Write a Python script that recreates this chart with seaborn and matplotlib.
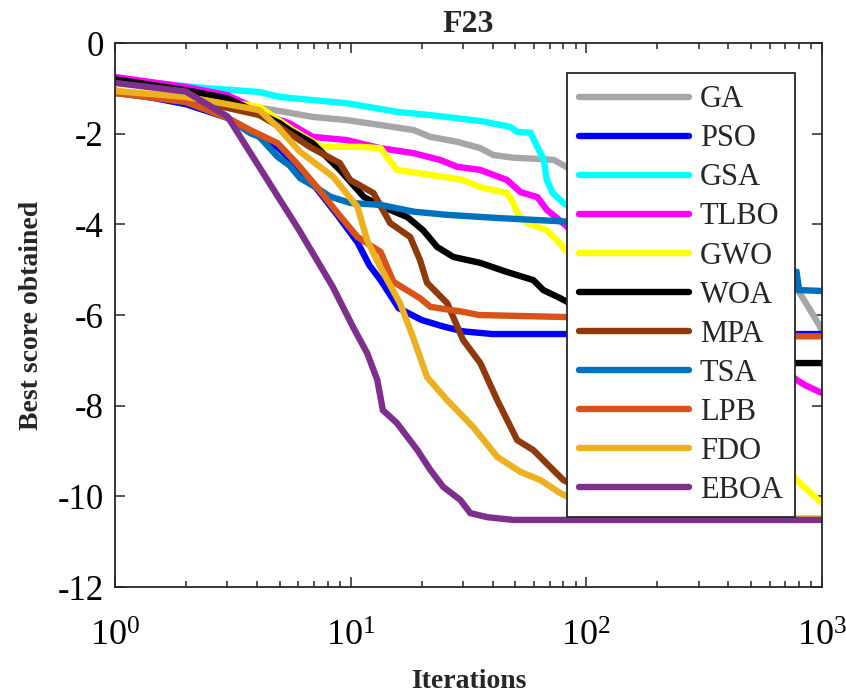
import matplotlib
matplotlib.use("Agg")
import matplotlib.pyplot as plt
from matplotlib.ticker import LogLocator, NullFormatter, FixedLocator
import seaborn as sns
import pandas as pd

# Convergence curves of eleven optimisers on benchmark F23
names = ["GA", "PSO", "GSA", "TLBO", "GWO", "WOA", "MPA", "TSA", "LPB", "FDO", "EBOA"]
colors = ["#A6A6A8", "#0000FF", "#00FFFF", "#FF00FF", "#FFFF00", "#000000",
          "#8E3A0C", "#0072BD", "#D95319", "#EDB120", "#7E2F8E"]

ga_it = [1, 2, 3, 4.1, 5, 6.9, 9.6, 13.4, 18.5, 21.8, 28.4, 35.5, 40.3, 49, 64, 73, 84,
         100, 150, 200, 300, 400, 500, 600, 700, 790, 870, 930, 1000]
ga_val = [-0.85, -1.05, -1.3, -1.43, -1.5, -1.63, -1.70, -1.81, -1.92, -2.07, -2.18, -2.32,
          -2.47, -2.53, -2.56, -2.58, -2.76, -2.95, -3.2, -3.5, -3.9, -4.3, -4.6, -4.9,
          -5.2, -5.45, -5.8, -6.05, -6.33]

pso_it = [1, 2, 3, 3.75, 4.9, 5.9, 7.2, 8.8, 10.7, 12, 13.4, 16, 20, 25, 30, 40, 100, 1000]
pso_val = [-1.05, -1.35, -1.65, -1.95, -2.3, -2.7, -3.22, -3.8, -4.4, -4.9, -5.23, -5.85,
           -6.11, -6.26, -6.36, -6.42, -6.42, -6.42]

gsa_it = [1, 2.5, 4.1, 5, 9.7, 15.8, 21.8, 35.5, 47.5, 51, 58, 62, 66, 68, 72, 80, 94,
          120, 150, 185, 245, 1000]
gsa_val = [-0.8, -1.0, -1.08, -1.19, -1.33, -1.52, -1.59, -1.72, -1.85, -1.96, -1.98,
           -2.29, -2.58, -3.02, -3.31, -3.53, -3.75, -6.5, -9.0, -10.3, -10.5, -10.5]

tlbo_it = [1, 2, 3, 4.1, 5, 5.5, 6.9, 9.6, 13.4, 18.5, 24, 28.3, 35.5, 46, 52.6, 62, 68,
           83, 85, 150, 300, 500, 780, 850, 1000]
tlbo_val = [-0.75, -0.97, -1.15, -1.48, -1.7, -1.77, -2.07, -2.14, -2.32, -2.43, -2.58,
            -2.73, -2.80, -3.02, -3.29, -3.40, -3.68, -4.05, -4.13, -4.6, -5.5, -6.6,
            -7.43, -7.55, -7.72]

gwo_it = [1, 2, 3, 4.1, 5.7, 6.7, 7.6, 11, 13.4, 15.7, 21.8, 30, 35.5, 46, 49, 51, 56,
          68, 75, 83, 150, 300, 500, 780, 1000]
gwo_val = [-1.06, -1.19, -1.3, -1.41, -1.92, -2.14, -2.29, -2.29, -2.32, -2.8, -2.91,
           -3.02, -3.18, -3.31, -3.53, -3.75, -3.97, -4.13, -4.35, -4.61, -5.3, -6.5,
           -8.0, -9.64, -10.15]

woa_it = [1, 2, 3, 4.1, 5, 5.5, 6.9, 9, 11.4, 13.5, 17.4, 20.3, 23.3, 27.3, 35.5, 46,
          59.6, 65.7, 77.6, 85, 150, 300, 500, 700, 1000]
woa_val = [-0.8, -1.04, -1.22, -1.55, -1.77, -1.92, -2.21, -2.8, -3.4, -3.6, -3.84, -4.13,
           -4.5, -4.72, -4.85, -5.05, -5.23, -5.45, -5.63, -5.74, -6.1, -6.5, -6.85,
           -7.06, -7.06]

mpa_it = [1, 2, 3, 4.1, 5, 6.7, 9.0, 9.95, 12.5, 14.7, 17.9, 19.7, 21.1, 25.7, 30, 35.5,
          41.9, 50.9, 59.6, 72.4, 79.9, 85, 107, 150, 1000]
mpa_val = [-1.1, -1.26, -1.43, -1.59, -1.85, -2.29, -2.65, -3.02, -3.31, -3.97, -4.28,
           -4.79, -5.29, -5.74, -6.55, -7.06, -7.88, -8.76, -8.98, -9.42, -9.64, -9.71,
           -10.4, -10.5, -10.5]

tsa_it = [1, 2, 3, 3.75, 4.1, 4.9, 5.5, 6.1, 7.2, 8.2, 10, 13.4, 18.5, 25.6, 42, 83,
          150, 300, 500, 780, 800, 1000]
tsa_val = [-1.1, -1.3, -1.65, -1.99, -2.07, -2.51, -2.7, -2.98, -3.2, -3.39, -3.53, -3.57,
           -3.72, -3.79, -3.86, -3.94, -4.1, -4.4, -4.75, -5.05, -5.45, -5.47]

lpb_it = [1, 2, 3, 3.75, 4.9, 5.9, 7.2, 8.8, 10.7, 13.4, 15.2, 19.7, 21.8, 30, 35, 90,
          200, 300, 1000]
lpb_val = [-1.1, -1.3, -1.65, -1.92, -2.21, -2.65, -3.18, -3.75, -4.28, -4.61, -5.27,
           -5.63, -5.82, -5.93, -6.0, -6.05, -6.3, -6.47, -6.47]

fdo_it = [1, 2, 3, 4.1, 4.9, 6.1, 8.43, 10.7, 11.75, 13.35, 16.2, 18.4, 21.1, 25.7, 33.1,
          41.9, 52.5, 63.8, 77.6, 94.4, 130, 170, 1000]
fdo_val = [-1.06, -1.19, -1.35, -1.48, -1.85, -2.4, -2.95, -3.62, -4.35, -4.94, -5.74,
           -6.49, -7.37, -7.88, -8.47, -9.13, -9.46, -9.64, -9.93, -10.15, -10.42, -10.5,
           -10.5]

eboa_it = [1, 2, 3, 4, 5, 6, 6.9, 8.4, 10.25, 11.75, 12.97, 13.7, 15.7, 19.2, 21.8, 24.7,
           29.2, 32.2, 38, 49, 1000]
eboa_val = [-0.88, -1.07, -1.62, -2.65, -3.45, -4.1, -4.63, -5.38, -6.27, -6.84, -7.43,
            -8.1, -8.38, -8.98, -9.42, -9.79, -10.08, -10.37, -10.46, -10.52, -10.52]

iters = [ga_it, pso_it, gsa_it, tlbo_it, gwo_it, woa_it, mpa_it, tsa_it, lpb_it, fdo_it, eboa_it]
scores = [ga_val, pso_val, gsa_val, tlbo_val, gwo_val, woa_val, mpa_val, tsa_val, lpb_val,
          fdo_val, eboa_val]

frames = [pd.DataFrame({"Iteration": it, "Score": sc, "Algorithm": nm})
          for nm, it, sc in zip(names, iters, scores)]
df = pd.concat(frames, ignore_index=True)

sns.set_style("ticks")
plt.rcParams["font.family"] = ["Liberation Serif", "DejaVu Serif"]
plt.rcParams["mathtext.fontset"] = "custom"
plt.rcParams["mathtext.rm"] = "Liberation Serif"
plt.rcParams["mathtext.it"] = "Liberation Serif:italic"
plt.rcParams["axes.unicode_minus"] = False

fig = plt.figure(figsize=(8.46, 6.96), dpi=100)
ax = fig.add_axes([0.1359, 0.1566, 0.8357, 0.7816])

for nm, col in zip(names, colors):
    sub = df[df["Algorithm"] == nm]
    sns.lineplot(data=sub, x="Iteration", y="Score", ax=ax, color=col, linewidth=4.6,
                 label=nm, estimator=None, sort=False, solid_joinstyle="miter")

ax.set_xscale("log")
ax.set_xlim(1, 1000)
ax.set_ylim(-12, 0)
ax.xaxis.set_major_locator(FixedLocator([1, 10, 100, 1000]))
ax.set_xticklabels([r"$10^{0}$", r"$10^{1}$", r"$10^{2}$", r"$10^{3}$"])
ax.xaxis.set_minor_locator(LogLocator(base=10, subs=range(2, 10)))
ax.xaxis.set_minor_formatter(NullFormatter())
ax.set_yticks([0, -2, -4, -6, -8, -10, -12])

edge = "#262626"
for sp in ax.spines.values():
    sp.set_visible(True)
    sp.set_color(edge)
    sp.set_linewidth(1.3)
ax.tick_params(which="both", direction="in", top=True, right=True, color=edge,
               width=1.1, labelsize=25, labelcolor="black")
ax.tick_params(which="major", length=7)
ax.tick_params(which="minor", length=4)
ax.tick_params(axis="x", labelsize=26, pad=24)
ax.tick_params(axis="y", pad=8)

ax.set_title("F23", fontsize=23, fontweight="bold", pad=8)
ax.set_xlabel("Iterations", fontsize=20, fontweight="bold", labelpad=11)
ax.set_ylabel("Best score obtained", fontsize=20, fontweight="bold", labelpad=10)

leg = ax.legend(loc="upper right", bbox_to_anchor=(0.9618, 0.9449), borderaxespad=0,
                fontsize=22, frameon=True, fancybox=False, handlelength=3.6,
                handletextpad=0.35, labelspacing=0.33, borderpad=0.4)
leg.get_frame().set_edgecolor(edge)
leg.get_frame().set_linewidth(1.3)
leg.get_frame().set_alpha(1)
for h in leg.get_lines():
    h.set_linewidth(4.6)

fig.savefig("out.png", dpi=100)
